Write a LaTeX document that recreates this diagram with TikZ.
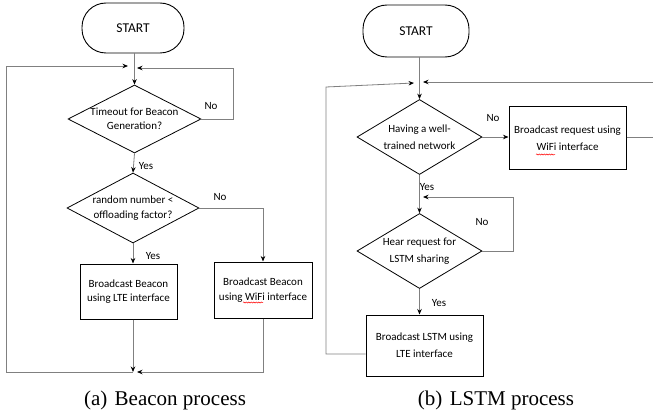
\documentclass[tikz,border=0pt]{standalone}
\usepackage{fontspec}
\setmainfont{Carlito}
\newfontfamily\capfont{Liberation Serif}
\usetikzlibrary{arrows.meta,shapes.geometric,decorations.pathmorphing}
\begin{document}
\begin{tikzpicture}[x=1pt,y=-1pt,
  conn/.style={draw=black!50, line width=0.8pt},
  arr/.style={conn, -{Stealth[length=5.5pt,width=4.5pt,color=black]}},
  term/.style={draw, line width=0.9pt, rounded corners=24pt, inner sep=0, font=\fontsize{13.5}{15}\selectfont},
  dia/.style={draw, shape=diamond, inner sep=0, line width=0.8pt},
  box/.style={draw, line width=1pt, inner sep=0, align=center},
  ltxt/.style={align=center, font=\fontsize{11}{14.5}\selectfont},
  rtxt/.style={align=center, font=\fontsize{11}{17}\selectfont},
  lab/.style={font=\fontsize{11}{13}\selectfont, inner sep=0},
  squig/.style={draw=red, line width=0.5pt, decorate, decoration={snake, amplitude=0.6pt, segment length=2.5pt}},
  captext/.style={font=\capfont\fontsize{21}{24}\selectfont}
]
\useasboundingbox (0,0) rectangle (653,417);

% ---------------- (a) Beacon process ----------------
\node[term, minimum width=102, minimum height=50] (s1) at (133,28) {START};
\node[dia, minimum width=133, minimum height=68] (d1) at (134.5,119) {};
\node[ltxt] at (d1.center) {Timeout for Beacon\\Generation?};
\node[dia, minimum width=132, minimum height=70] (d2) at (133,208) {};
\node[ltxt] at (d2.center) {random number <\\offloading factor?};
\node[box, minimum width=97, minimum height=55, ltxt] (b1) at (128.5,291.5) {Broadcast Beacon\\using LTE interface};
\node[box, minimum width=98, minimum height=56, ltxt] (b2) at (263,290) {Broadcast Beacon\\using WiFi interface};
\draw[squig] (243,302.5) -- (263,302.5);

\coordinate (jal) at (128,66);
\coordinate (jar) at (137,68);
\coordinate (jb) at (133,372);
\coordinate (jbr) at (137,372);

\draw[arr] (s1.south -| d1.north) -- (d1.north);
\draw[arr] (d1.east) -- (233,119) -- (233,68) -- (jar);
\draw[arr] (d1.south) -- (d2.north);
\draw[arr] (d2.east) -- (b2.north |- d2.east) -- (b2.north);
\draw[arr] (d2.south) -- (d2.south |- b1.north);
\draw[arr] (b1.south -| d2.south) -- (jb);
\draw[arr] (b2.south) -- (b2.south |- jb) -- (jbr);
\draw[arr] (jb) -- (6,372) -- (6,66) -- (jal);

\node[lab] at (211,106) {No};
\node[lab] at (146,166) {Yes};
\node[lab] at (220,197) {No};
\node[lab] at (153,256) {Yes};

\node[captext] at (165,400) {(a)\hspace{0.35em}Beacon process};

% ---------------- (b) LSTM process ----------------
\node[term, minimum width=106, minimum height=52] (s2) at (416,31) {START};
\node[dia, minimum width=125, minimum height=75] (d3) at (419.5,137) {};
\node[rtxt] at (d3.center) {Having a well-\\trained network};
\node[box, minimum width=117, minimum height=62, rtxt] (r1) at (567.5,138) {Broadcast request using\\WiFi interface};
\draw[squig] (536,154.5) -- (555,154.5);
\node[dia, minimum width=125, minimum height=75] (d4) at (419.5,251) {};
\node[rtxt] at (d4.center) {Hear request for\\LSTM sharing};
\node[box, minimum width=117, minimum height=61, rtxt] (r2) at (424.5,345.5) {Broadcast LSTM using\\LTE interface};

\coordinate (jcl) at (414,83);
\coordinate (jcr) at (423,82);
\coordinate (jd) at (423,197);

\draw[arr] (s2.south -| d3.north) -- (d3.north);
\draw[arr] (d3.east) -- (r1.west |- d3.east);
\draw[conn] (r1.east |- d3.east) -- (653,137);
\draw[arr] (653,82) -- (jcr);
\draw[arr] (d3.south) -- (d4.north);
\draw[arr] (d4.east) -- (513,251) -- (513,197) -- (jd);
\draw[arr] (d4.south) -- (d4.south |- r2.north);
\draw[arr] (r2.west |- 0,354) -- (326,354) -- (326,87) -- (jcl);

\node[lab] at (493,118) {No};
\node[lab] at (427,187) {Yes};
\node[lab] at (482,222) {No};
\node[lab] at (439,303) {Yes};

\node[captext] at (496,400) {(b)\hspace{0.35em}LSTM process};
\end{tikzpicture}
\end{document}
